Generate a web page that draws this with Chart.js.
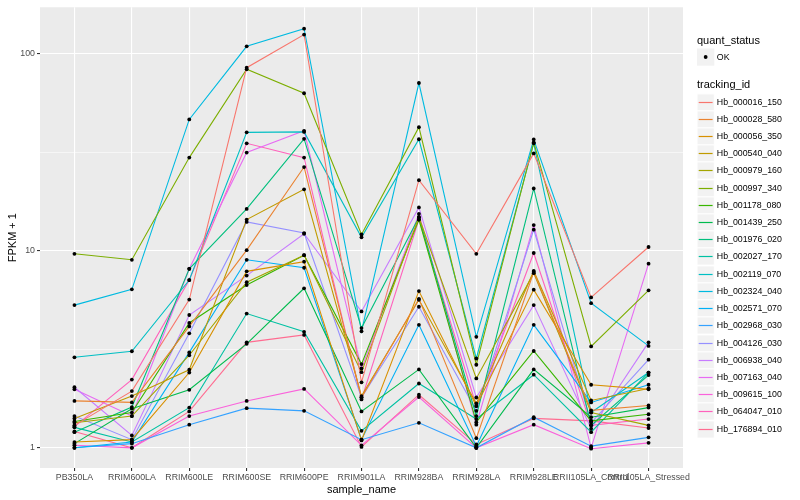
<!DOCTYPE html>
<html>
<head>
<meta charset="utf-8">
<script src="https://cdn.jsdelivr.net/npm/chart.js@4/dist/chart.umd.min.js"></script>
<style>
  html, body { margin: 0; padding: 0; background: #ffffff; }
  #wrap { width: 800px; height: 500px; }
</style>
</head>
<body>
<div id="wrap"><canvas id="chart" width="800" height="500"></canvas></div>
<script>
// --- data (FPKM + 1, log scale) ---
const categories = ['PB350LA', 'RRIM600LA', 'RRIM600LE', 'RRIM600SE', 'RRIM600PE', 'RRIM901LA',
    'RRIM928BA', 'RRIM928LA', 'RRIM928LE', 'RRII105LA_Control', 'RRII105LA_Stressed'];

const trackingIds = ['Hb_000016_150', 'Hb_000028_580', 'Hb_000056_350', 'Hb_000540_040', 'Hb_000979_160',
    'Hb_000997_340', 'Hb_001178_080', 'Hb_001439_250', 'Hb_001976_020', 'Hb_002027_170',
    'Hb_002119_070', 'Hb_002324_040', 'Hb_002571_070', 'Hb_002968_030', 'Hb_004126_030',
    'Hb_006938_040', 'Hb_007163_040', 'Hb_009615_100', 'Hb_064047_010', 'Hb_176894_010'];

const hb_000016_150 = [1.30, 1.94, 5.65, 84.9, 125, 2.15, 22.8, 9.65, 31.2, 5.8, 10.45];
const hb_000028_580 = [1.73, 1.70, 4.13, 10.07, 26.6, 1.80, 5.7, 1.12, 7.8, 1.55, 1.64];
const hb_000056_350 = [1.07, 1.10, 2.41, 7.86, 8.8, 1.09, 6.24, 1.63, 6.35, 2.09, 1.98];
const hb_000540_040 = [1.41, 1.83, 2.49, 14.4, 20.5, 1.83, 5.64, 1.68, 7.9, 1.74, 2.0];
const hb_000979_160 = [1.34, 1.45, 2.95, 6.93, 9.5, 2.42, 14.8, 2.25, 7.7, 1.51, 1.30];
const hb_000997_340 = [9.65, 9.0, 29.7, 83.4, 63, 12.1, 42.4, 2.64, 35.5, 3.27, 6.3];
const hb_001178_080 = [1.36, 1.51, 4.3, 6.7, 9.5, 2.66, 14.4, 1.35, 3.1, 1.37, 1.48];
const hb_001439_250 = [1.05, 1.58, 1.97, 3.37, 6.45, 1.53, 2.5, 1.0, 2.5, 1.43, 1.60];
const hb_001976_020 = [1.20, 1.61, 8.1, 16.3, 37, 4.05, 14.8, 1.45, 20.7, 1.30, 2.34];
const hb_002027_170 = [1.27, 1.07, 1.6, 4.8, 3.88, 1.22, 2.12, 1.40, 2.35, 1.20, 2.41];
const hb_002119_070 = [2.88, 3.09, 7.1, 39.9, 40.1, 11.7, 36.8, 2.84, 35.1, 1.51, 2.41];
const hb_002324_040 = [5.3, 6.37, 46.4, 109, 134, 3.9, 71, 3.66, 36.7, 5.42, 3.29];
const hb_002571_070 = [1.0, 1.07, 3.05, 9.0, 8.2, 1.10, 4.21, 1.02, 4.21, 1.70, 2.09];
const hb_002968_030 = [1.0, 1.05, 1.31, 1.59, 1.54, 1.10, 1.34, 1.0, 1.43, 1.02, 1.13];
const hb_004126_030 = [1.45, 1.10, 3.81, 14.0, 12.3, 1.80, 5.2, 1.54, 12.8, 1.34, 2.8];
const hb_006938_040 = [2.03, 1.155, 4.72, 7.48, 12.2, 4.92, 16.6, 1.80, 5.3, 1.25, 3.43];
const hb_007163_040 = [1.98, 1.45, 8.1, 31.5, 40.6, 2.53, 15.4, 1.31, 13.5, 1.0, 8.6];
const hb_009615_100 = [1.03, 1.0, 1.45, 1.73, 1.99, 1.03, 1.81, 1.0, 1.31, 0.99, 1.06];
const hb_064047_010 = [1.28, 2.22, 7.1, 35.1, 29.7, 1.76, 14.4, 1.63, 9.74, 1.30, 1.40];
const hb_176894_010 = [1.21, 1.0, 1.53, 3.43, 3.74, 1.01, 1.86, 1.04, 1.41, 1.37, 1.26];

const seriesValues = [hb_000016_150, hb_000028_580, hb_000056_350, hb_000540_040, hb_000979_160,
    hb_000997_340, hb_001178_080, hb_001439_250, hb_001976_020, hb_002027_170,
    hb_002119_070, hb_002324_040, hb_002571_070, hb_002968_030, hb_004126_030,
    hb_006938_040, hb_007163_040, hb_009615_100, hb_064047_010, hb_176894_010];

const yMajorTicks = [1, 10, 100];
const yMinorTicks = [Math.sqrt(10), Math.sqrt(1000)];

// ggplot2 default hue palette for 20 levels
const palette = ['#F8766D', '#EA8331', '#D89000', '#C09B00', '#A3A500', '#7CAE00', '#39B600', '#00BB4E',
    '#00BF7D', '#00C1A3', '#00BFC4', '#00BAE0', '#00B0F6', '#35A2FF', '#9590FF', '#C77CFF',
    '#E76BF3', '#FA62DB', '#FF62BC', '#FF6C91'];

const FONT = '"Liberation Sans", Arial, Helvetica, sans-serif';

// grey panel behind the plot
const panelPlugin = {
    id: 'panel',
    beforeDraw(chart) {
        const { ctx, chartArea: a } = chart;
        ctx.save();
        ctx.fillStyle = '#EBEBEB';
        ctx.fillRect(a.left, a.top, a.right - a.left, a.bottom - a.top);
        ctx.restore();
    }
};

// black points on top of every line (geom_point)
const pointsPlugin = {
    id: 'points',
    afterDatasetsDraw(chart) {
        const ctx = chart.ctx;
        ctx.save();
        ctx.fillStyle = '#000000';
        chart.data.datasets.forEach((ds, i) => {
            chart.getDatasetMeta(i).data.forEach(pt => {
                ctx.beginPath();
                ctx.arc(pt.x, pt.y, 1.9, 0, Math.PI * 2);
                ctx.fill();
            });
        });
        ctx.restore();
    }
};

// ggplot-style legend on the right
const legendPlugin = {
    id: 'ggLegend',
    afterDraw(chart) {
        const ctx = chart.ctx;
        const x0 = 697, keyW = 17.3, keyH = 17.2;
        ctx.save();
        ctx.textBaseline = 'middle';
        ctx.textAlign = 'left';

        ctx.fillStyle = '#000000';
        ctx.font = '11px ' + FONT;
        ctx.fillText('quant_status', x0, 40.5);
        ctx.fillStyle = '#F2F2F2';
        ctx.fillRect(x0, 48.5, keyW, keyH);
        ctx.fillStyle = '#000000';
        ctx.beginPath();
        ctx.arc(x0 + keyW / 2, 57, 1.9, 0, Math.PI * 2);
        ctx.fill();
        ctx.font = '8.8px ' + FONT;
        ctx.fillText('OK', x0 + keyW + 2.5, 57.5);

        ctx.font = '11px ' + FONT;
        ctx.fillText('tracking_id', x0, 85);
        trackingIds.forEach((id, i) => {
            const cy = Math.round(101.5 + i * 17.22) + 0.5;
            ctx.fillStyle = '#F2F2F2';
            ctx.fillRect(x0, cy - keyH / 2, keyW, keyH);
            ctx.strokeStyle = '#FFFFFF';
            ctx.lineWidth = 1;
            ctx.strokeRect(x0, cy - keyH / 2, keyW, keyH);
            ctx.strokeStyle = palette[i];
            ctx.lineWidth = 1.2;
            ctx.beginPath();
            ctx.moveTo(x0 + 1.7, cy);
            ctx.lineTo(x0 + keyW - 1.7, cy);
            ctx.stroke();
            ctx.fillStyle = '#000000';
            ctx.font = '8.8px ' + FONT;
            ctx.fillText(id, x0 + keyW + 2.5, cy);
        });
        ctx.restore();
    }
};

const datasets = seriesValues.map((vals, i) => ({
    label: trackingIds[i],
    data: vals.map((v, j) => ({ x: j, y: v })),
    borderColor: palette[i],
    backgroundColor: palette[i],
    borderWidth: 1.1,
    pointRadius: 0,
    tension: 0,
    fill: false
}));

new Chart(document.getElementById('chart'), {
    type: 'line',
    data: { datasets },
    plugins: [panelPlugin, pointsPlugin, legendPlugin],
    options: {
        responsive: false,
        animation: false,
        devicePixelRatio: 1,
        layout: { padding: { left: 0, top: 5, right: 117, bottom: 0 } },
        plugins: { legend: { display: false }, tooltip: { enabled: false } },
        scales: {
            x: {
                type: 'linear',
                min: -0.6,
                max: categories.length - 1 + 0.6,
                afterBuildTicks: scale => { scale.ticks = categories.map((c, i) => ({ value: i })); },
                afterFit: scale => { scale.height = 32; },
                border: { display: false },
                grid: { color: '#FFFFFF', lineWidth: 1.1, tickColor: '#333333', tickLength: 3 },
                ticks: {
                    autoSkip: false, maxRotation: 0, minRotation: 0, padding: 1,
                    color: '#4D4D4D', font: { family: FONT, size: 8.8 },
                    callback: v => categories[v]
                },
                title: { display: true, text: 'sample_name', color: '#000000', font: { family: FONT, size: 11 }, padding: { top: 0, bottom: 3 } }
            },
            y: {
                type: 'logarithmic',
                min: 0.79,
                max: 172,
                afterBuildTicks: scale => {
                    scale.ticks = yMajorTicks.concat(yMinorTicks).sort((a, b) => a - b).map(v => ({ value: v, major: yMajorTicks.includes(v) }));
                },
                afterFit: scale => { scale.width = 40; },
                border: { display: false },
                grid: {
                    color: '#FFFFFF',
                    lineWidth: c => (c.tick && c.tick.major ? 1.1 : 0.55),
                    tickColor: c => (c.tick && c.tick.major ? '#333333' : 'rgba(0,0,0,0)'),
                    tickLength: 3
                },
                ticks: {
                    padding: 2, color: '#4D4D4D', font: { family: FONT, size: 8.8 },
                    callback: v => (yMajorTicks.includes(v) ? String(v) : '')
                },
                title: { display: true, text: 'FPKM + 1', color: '#000000', font: { family: FONT, size: 11 }, padding: { top: 6, bottom: 4 } }
            }
        }
    }
});
</script>
</body>
</html>
